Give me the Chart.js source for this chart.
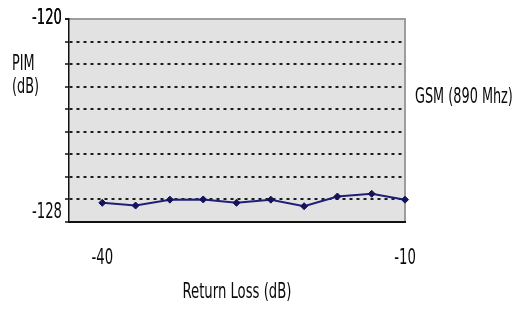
<!DOCTYPE html>
<html>
<head>
<meta charset="utf-8">
<script src="https://cdn.jsdelivr.net/npm/chart.js@4.4.0/dist/chart.umd.min.js"></script>
<style>
  html, body { margin: 0; padding: 0; background: #fff; }
  #wrap { position: relative; width: 514px; height: 309px; }
  .lbl {
    position: absolute;
    font-family: "DejaVu Sans Condensed", sans-serif;
    font-size: 21px;
    line-height: 21px;
    color: #0a0a0a;
    transform-origin: left top;
    transform: scaleX(0.68);
    white-space: nowrap;
  }
</style>
</head>
<body>
<div id="wrap">
  <canvas id="chart" width="514" height="309"></canvas>
  <div class="lbl" style="left:12px;top:53px">PIM</div>
  <div class="lbl" style="left:12px;top:76px">(dB)</div>
  <div class="lbl" style="left:415px;top:86px">GSM (890 Mhz)</div>
</div>
<script>
// values
const returnLoss = [-40, -36.7, -33.3, -30, -26.7, -23.3, -20, -16.7, -13.3, -10];
const pim = [-128.15, -128.27, -128.01, -128.0, -128.15, -128.01, -128.3, -127.87, -127.75, -128.01];
const xTicks = [-40, -10];
const yGridValues = [-129, -128, -127, -126, -125, -124, -123, -122, -121, -120];
const yTickLabels = [{ value: -120, text: '-120' }, { value: -128.6, text: '-128' }];

const fontFamily = '"DejaVu Sans Condensed", sans-serif';
const textSqueeze = 0.7;
const lineColor = '#1f1f7a';

function isDotted(v) {
  return v >= -128 && v <= -121 && Number.isInteger(v);
}

// the source uses a very narrow face, so squeeze canvas text around its anchor
const narrowText = {
  id: 'narrowText',
  beforeInit(chart) {
    const c = chart.ctx;
    const fill = c.fillText;
    c.fillText = function(text, x, y) {
      c.save();
      c.translate(x, y);
      c.scale(textSqueeze, 1);
      fill.call(c, text, 0, 0);
      c.restore();
    };
  }
};

// grey plot area with the thin grey top / right frame
const plotFrame = {
  id: 'plotFrame',
  beforeDraw(chart) {
    const { ctx, chartArea: a } = chart;
    ctx.save();
    ctx.fillStyle = '#e2e2e2';
    ctx.fillRect(a.left, a.top, a.right - a.left, a.bottom - a.top);
    ctx.strokeStyle = '#9d9d9d';
    ctx.lineWidth = 2;
    ctx.beginPath();
    ctx.moveTo(a.left, a.top);
    ctx.lineTo(a.right, a.top);
    ctx.lineTo(a.right, a.bottom);
    ctx.stroke();
    ctx.restore();
  }
};

const ctx = document.getElementById('chart').getContext('2d');
new Chart(ctx, {
  type: 'line',
  data: {
    datasets: [{
      data: returnLoss.map((x, i) => ({ x: x, y: pim[i] })),
      borderColor: lineColor,
      backgroundColor: '#14145a',
      borderWidth: 2,
      pointStyle: 'rectRot',
      pointRadius: 3.5,
      pointBorderWidth: 1,
      pointBorderColor: '#14145a',
      tension: 0,
      clip: false
    }]
  },
  options: {
    responsive: false,
    animation: false,
    layout: { padding: { top: 19, right: 109, left: 0, bottom: 0 } },
    plugins: {
      legend: { display: false },
      tooltip: { enabled: false }
    },
    scales: {
      x: {
        type: 'linear',
        min: -43.3,
        max: -10,
        afterBuildTicks: function(scale) {
          scale.ticks = xTicks.map(v => ({ value: v }));
        },
        afterFit: function(scale) {
          scale.height = 87;
        },
        ticks: {
          padding: 16,
          color: '#0a0a0a',
          font: { family: fontFamily, size: 21 },
          maxRotation: 0,
          callback: v => String(v)
        },
        grid: { display: false },
        border: { display: true, color: '#111', width: 2 },
        title: {
          display: true,
          text: 'Return Loss (dB)',
          color: '#0a0a0a',
          font: { family: fontFamily, size: 21 },
          padding: { top: 0, bottom: 4 }
        }
      },
      y: {
        min: -129,
        max: -120,
        afterBuildTicks: function(scale) {
          const vals = yGridValues.concat(yTickLabels.map(t => t.value));
          vals.sort((a, b) => a - b);
          scale.ticks = vals.map(v => ({ value: v }));
        },
        afterFit: function(scale) {
          scale.width = 69;
        },
        ticks: {
          padding: 3,
          color: '#0a0a0a',
          font: { family: fontFamily, size: 21 },
          autoSkip: false,
          callback: function(value) {
            const t = yTickLabels.find(l => l.value === value);
            return t ? t.text : '';
          }
        },
        grid: {
          lineWidth: 2,
          color: c => (c.tick && isDotted(c.tick.value)) ? '#1c1c1c' : 'rgba(0,0,0,0)',
          tickLength: 4,
          tickWidth: 1.5,
          tickColor: c => (c.tick && Number.isInteger(c.tick.value)) ? '#111' : 'rgba(0,0,0,0)'
        },
        border: { display: true, color: '#111', width: 1.5, dash: [3, 4] }
      }
    }
  },
  plugins: [narrowText, plotFrame]
});
</script>
</body>
</html>
